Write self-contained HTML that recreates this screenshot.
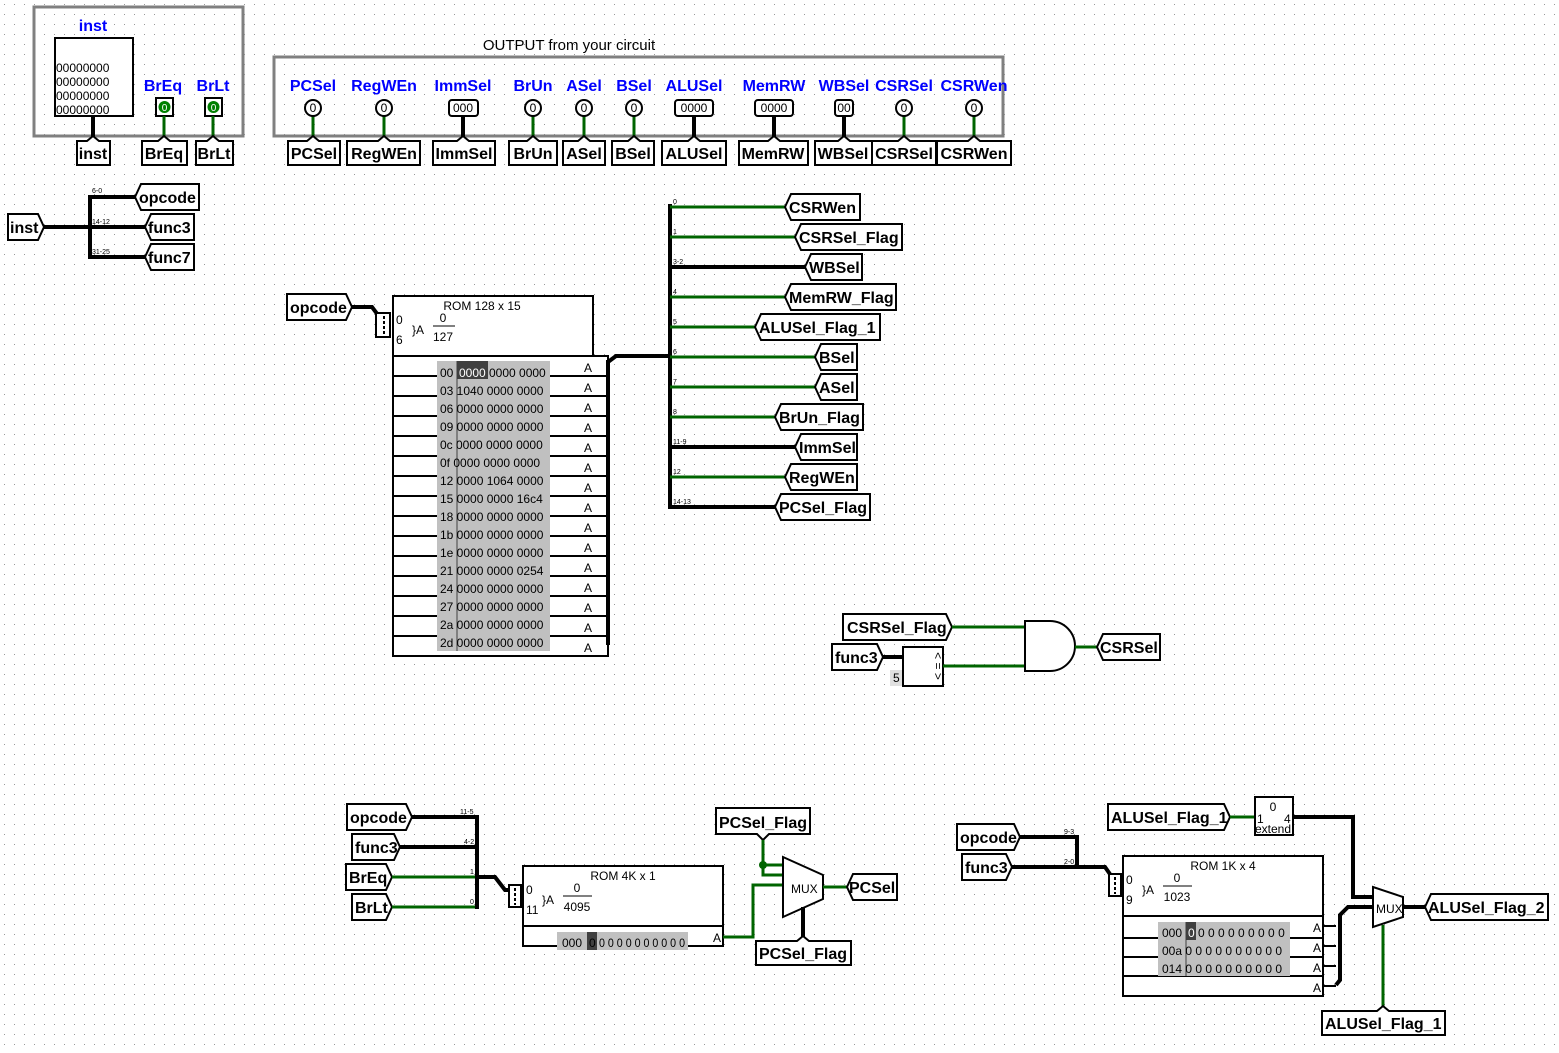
<!DOCTYPE html>
<html><head><meta charset="utf-8"><style>
html,body{margin:0;padding:0;background:#fff}
svg{display:block}
.t{font-family:"Liberation Sans",sans-serif;font-size:16px;font-weight:bold;fill:#000}
.b{font-family:"Liberation Sans",sans-serif;font-size:16px;font-weight:bold;fill:#0000ff}
.s{font-family:"Liberation Sans",sans-serif;font-size:12px;fill:#000}
.xs{font-family:"Liberation Sans",sans-serif;font-size:7px;fill:#000}
.tn{fill:#fff;stroke:#000;stroke-width:2}
.w{stroke:#000;stroke-width:4;fill:none}
.g{stroke:#006400;stroke-width:3;fill:none}
.k{stroke:#000;stroke-width:2;fill:none}
.gr{fill:none;stroke:#808080;stroke-width:3}
</style></head><body>
<svg width="1559" height="1053" viewBox="0 0 1559 1053" xmlns="http://www.w3.org/2000/svg">
<defs><pattern id="d" width="10" height="10" patternUnits="userSpaceOnUse"><rect x="4" y="4" width="1" height="1" fill="#999"/></pattern></defs>
<rect width="1559" height="1053" fill="#fff"/>
<rect width="1559" height="1053" fill="url(#d)"/>

<!-- input box -->
<rect class="gr" x="34" y="7" width="209" height="129"/>
<text class="b" x="93" y="31" text-anchor="middle">inst</text>
<rect x="55" y="38" width="78" height="78" fill="#fff" stroke="#000" stroke-width="2"/>
<g class="s" font-size="11"><text x="56" y="72">00000000</text><text x="56" y="86">00000000</text><text x="56" y="100">00000000</text><text x="56" y="114">00000000</text></g>
<line class="w" x1="93" y1="116" x2="93" y2="140"/>
<text class="b" x="163" y="91" text-anchor="middle">BrEq</text>
<text class="b" x="213" y="91" text-anchor="middle">BrLt</text>
<rect x="156" y="98" width="17" height="18" fill="#fff" stroke="#000" stroke-width="2"/>
<circle cx="164.5" cy="107" r="6" fill="#008000"/><text x="164.5" y="111" font-size="10" fill="#fff" text-anchor="middle" font-family="Liberation Sans">0</text>
<rect x="205" y="98" width="17" height="18" fill="#fff" stroke="#000" stroke-width="2"/>
<circle cx="213.5" cy="107" r="6" fill="#008000"/><text x="213.5" y="111" font-size="10" fill="#fff" text-anchor="middle" font-family="Liberation Sans">0</text>
<line class="g" x1="164" y1="116" x2="164" y2="140"/>
<line class="g" x1="213" y1="116" x2="213" y2="140"/>
<path class="tn" d="M77,141 L87,141 L93,136 L99,141 L110,141 L110,165 L77,165 Z"/><text class="t" x="93" y="159" text-anchor="middle">inst</text>
<path class="tn" d="M142,141 L158,141 L164,136 L170,141 L187,141 L187,165 L142,165 Z"/><text class="t" x="164" y="159" text-anchor="middle">BrEq</text>
<path class="tn" d="M196,141 L207,141 L213,136 L219,141 L233,141 L233,165 L196,165 Z"/><text class="t" x="214" y="159" text-anchor="middle">BrLt</text>

<!-- output box -->
<text x="569" y="50" font-family="Liberation Sans" font-size="15" text-anchor="middle">OUTPUT from your circuit</text>
<rect class="gr" x="274" y="57" width="729" height="79"/>
<g class="b">
<text x="313" y="91" text-anchor="middle">PCSel</text>
<text x="384" y="91" text-anchor="middle">RegWEn</text>
<text x="463" y="91" text-anchor="middle">ImmSel</text>
<text x="533" y="91" text-anchor="middle">BrUn</text>
<text x="584" y="91" text-anchor="middle">ASel</text>
<text x="634" y="91" text-anchor="middle">BSel</text>
<text x="694" y="91" text-anchor="middle">ALUSel</text>
<text x="774" y="91" text-anchor="middle">MemRW</text>
<text x="844" y="91" text-anchor="middle">WBSel</text>
<text x="904" y="91" text-anchor="middle">CSRSel</text>
<text x="974" y="91" text-anchor="middle">CSRWen</text>
</g>
<g class="g">
<line x1="313" y1="116" x2="313" y2="140"/><line x1="384" y1="116" x2="384" y2="140"/>
<line x1="533" y1="116" x2="533" y2="140"/><line x1="584" y1="116" x2="584" y2="140"/>
<line x1="634" y1="116" x2="634" y2="140"/><line x1="904" y1="116" x2="904" y2="140"/>
<line x1="974" y1="116" x2="974" y2="140"/>
</g>
<g class="w">
<line x1="463" y1="116" x2="463" y2="140"/><line x1="694" y1="116" x2="694" y2="140"/>
<line x1="774" y1="116" x2="774" y2="140"/><line x1="844" y1="116" x2="844" y2="140"/>
</g>
<g fill="#fff" stroke="#000" stroke-width="2">
<circle cx="313" cy="108" r="8"/><circle cx="384" cy="108" r="8"/><circle cx="533" cy="108" r="8"/>
<circle cx="584" cy="108" r="8"/><circle cx="634" cy="108" r="8"/><circle cx="904" cy="108" r="8"/><circle cx="974" cy="108" r="8"/>
<rect x="449" y="100" width="29" height="16" rx="3"/><rect x="675" y="100" width="38" height="16" rx="3"/>
<rect x="755" y="100" width="38" height="16" rx="3"/><rect x="835" y="100" width="18" height="16" rx="3"/>
</g>
<g class="s" font-size="10" text-anchor="middle">
<text x="313" y="112">0</text><text x="384" y="112">0</text><text x="533" y="112">0</text><text x="584" y="112">0</text>
<text x="634" y="112">0</text><text x="904" y="112">0</text><text x="974" y="112">0</text>
<text x="463" y="112">000</text><text x="694" y="112">0000</text><text x="774" y="112">0000</text><text x="844" y="112">00</text>
</g>
<g class="tn">
<path d="M288,141 L307,141 L313,136 L319,141 L340,141 L340,165 L288,165 Z"/>
<path d="M347,141 L378,141 L384,136 L390,141 L420,141 L420,165 L347,165 Z"/>
<path d="M433,141 L457,141 L463,136 L469,141 L495,141 L495,165 L433,165 Z"/>
<path d="M509,141 L527,141 L533,136 L539,141 L557,141 L557,165 L509,165 Z"/>
<path d="M563,141 L578,141 L584,136 L590,141 L605,141 L605,165 L563,165 Z"/>
<path d="M612,141 L628,141 L634,136 L640,141 L654,141 L654,165 L612,165 Z"/>
<path d="M662,141 L688,141 L694,136 L700,141 L726,141 L726,165 L662,165 Z"/>
<path d="M739,141 L768,141 L774,136 L780,141 L808,141 L808,165 L739,165 Z"/>
<path d="M815,141 L838,141 L844,136 L850,141 L872,141 L872,165 L815,165 Z"/>
<path d="M872,141 L898,141 L904,136 L910,141 L936,141 L936,165 L872,165 Z"/>
<path d="M937,141 L968,141 L974,136 L980,141 L1011,141 L1011,165 L937,165 Z"/>
</g>
<g class="t" text-anchor="middle">
<text x="314" y="159">PCSel</text><text x="384" y="159">RegWEn</text><text x="464" y="159">ImmSel</text>
<text x="533" y="159">BrUn</text><text x="584" y="159">ASel</text><text x="633" y="159">BSel</text>
<text x="694" y="159">ALUSel</text><text x="773" y="159">MemRW</text><text x="843" y="159">WBSel</text>
<text x="904" y="159">CSRSel</text><text x="974" y="159">CSRWen</text>
</g>

<!-- inst splitter -->
<path class="tn" d="M8,214 L38,214 L44,227 L38,240 L8,240 Z"/><text class="t" x="10" y="233">inst</text>
<line class="w" x1="44" y1="227" x2="90" y2="227"/>
<line class="w" x1="90" y1="195" x2="90" y2="259"/>
<line class="w" x1="90" y1="197" x2="136" y2="197"/>
<line class="w" x1="90" y1="227" x2="146" y2="227"/>
<line class="w" x1="90" y1="257" x2="146" y2="257"/>
<text class="xs" x="92" y="193">6-0</text><text class="xs" x="92" y="224">14-12</text><text class="xs" x="92" y="254">31-25</text>
<path class="tn" d="M135,197 L141,184 L199,184 L199,210 L141,210 Z"/><text class="t" x="139" y="203">opcode</text>
<path class="tn" d="M145,227 L151,214 L194,214 L194,240 L151,240 Z"/><text class="t" x="148" y="233">func3</text>
<path class="tn" d="M145,257 L151,244 L194,244 L194,270 L151,270 Z"/><text class="t" x="148" y="263">func7</text>

<!-- ROM 128x15 -->
<path class="tn" d="M287,294 L346,294 L352,307 L346,320 L287,320 Z"/><text class="t" x="290" y="313">opcode</text>
<path class="w" d="M352,307 L372,307 L378,315 L378,333"/>
<rect x="376" y="313" width="14" height="24" fill="#fff" stroke="#000" stroke-width="2"/>
<line x1="384" y1="316" x2="384" y2="335" stroke="#000" stroke-width="2" stroke-dasharray="3,2"/>
<path d="M393,356 L393,296 L593,296 L593,356" fill="#fff" stroke="#000" stroke-width="2"/>
<rect x="393" y="356" width="215" height="300" fill="#fff" stroke="#000" stroke-width="2"/>
<text class="s" x="482" y="310" text-anchor="middle">ROM 128 x 15</text>
<text class="s" x="396" y="324">0</text><text class="s" x="396" y="344">6</text>
<text class="s" x="412" y="334">}A</text><text class="s" x="443" y="322" text-anchor="middle">0</text>
<line x1="433" y1="326" x2="455" y2="326" stroke="#000"/><text class="s" x="443" y="341" text-anchor="middle">127</text>
<g stroke="#000" stroke-width="2">
<line x1="393" y1="376" x2="608" y2="376"/><line x1="393" y1="396" x2="608" y2="396"/><line x1="393" y1="416" x2="608" y2="416"/>
<line x1="393" y1="436" x2="608" y2="436"/><line x1="393" y1="456" x2="608" y2="456"/><line x1="393" y1="476" x2="608" y2="476"/>
<line x1="393" y1="496" x2="608" y2="496"/><line x1="393" y1="516" x2="608" y2="516"/><line x1="393" y1="536" x2="608" y2="536"/>
<line x1="393" y1="556" x2="608" y2="556"/><line x1="393" y1="576" x2="608" y2="576"/><line x1="393" y1="596" x2="608" y2="596"/>
<line x1="393" y1="616" x2="608" y2="616"/><line x1="393" y1="636" x2="608" y2="636"/>
</g>
<rect x="437" y="361" width="113" height="290" fill="#c0c0c0"/>
<rect x="457" y="361" width="31" height="18" fill="#404040"/>
<line x1="457" y1="361" x2="457" y2="651" stroke="#404040"/>
<g font-family="Liberation Sans" font-size="12" fill="#000">
<text x="440" y="377"><tspan>00</tspan><tspan x="459" fill="#fff">0000</tspan><tspan x="489">0000 0000</tspan></text>
<text x="440" y="395">03 1040 0000 0000</text><text x="440" y="413">06 0000 0000 0000</text>
<text x="440" y="431">09 0000 0000 0000</text><text x="440" y="449">0c 0000 0000 0000</text>
<text x="440" y="467">0f 0000 0000 0000</text><text x="440" y="485">12 0000 1064 0000</text>
<text x="440" y="503">15 0000 0000 16c4</text><text x="440" y="521">18 0000 0000 0000</text>
<text x="440" y="539">1b 0000 0000 0000</text><text x="440" y="557">1e 0000 0000 0000</text>
<text x="440" y="575">21 0000 0000 0254</text><text x="440" y="593">24 0000 0000 0000</text>
<text x="440" y="611">27 0000 0000 0000</text><text x="440" y="629">2a 0000 0000 0000</text>
<text x="440" y="647">2d 0000 0000 0000</text>
</g>
<g class="s" font-size="10"><text x="584" y="372">A</text><text x="584" y="392">A</text><text x="584" y="412">A</text><text x="584" y="432">A</text><text x="584" y="452">A</text><text x="584" y="472">A</text><text x="584" y="492">A</text><text x="584" y="512">A</text><text x="584" y="532">A</text><text x="584" y="552">A</text><text x="584" y="572">A</text><text x="584" y="592">A</text><text x="584" y="612">A</text><text x="584" y="632">A</text><text x="584" y="652">A</text></g>
<line class="w" x1="608" y1="360" x2="608" y2="645"/>
<path class="w" d="M608,362 L616,356 L670,356"/>
<line class="w" x1="670" y1="204" x2="670" y2="509"/>
<g class="g"><line x1="670" y1="207" x2="786" y2="207"/><line x1="670" y1="237" x2="796" y2="237"/>
<line x1="670" y1="297" x2="786" y2="297"/><line x1="670" y1="327" x2="756" y2="327"/>
<line x1="670" y1="357" x2="816" y2="357"/><line x1="670" y1="387" x2="816" y2="387"/>
<line x1="670" y1="417" x2="776" y2="417"/><line x1="670" y1="477" x2="786" y2="477"/></g>
<g class="w"><line x1="670" y1="267" x2="806" y2="267"/><line x1="670" y1="447" x2="796" y2="447"/><line x1="670" y1="507" x2="776" y2="507"/></g>
<g class="xs"><text x="673" y="204">0</text><text x="673" y="234">1</text><text x="673" y="264">3-2</text><text x="673" y="294">4</text><text x="673" y="324">5</text><text x="673" y="354">6</text><text x="673" y="384">7</text><text x="673" y="414">8</text><text x="673" y="444">11-9</text><text x="673" y="474">12</text><text x="673" y="504">14-13</text></g>
<g class="tn">
<path d="M785,207 L791,194 L860,194 L860,220 L791,220 Z"/>
<path d="M795,237 L801,224 L902,224 L902,250 L801,250 Z"/>
<path d="M805,267 L811,254 L862,254 L862,280 L811,280 Z"/>
<path d="M785,297 L791,284 L896,284 L896,310 L791,310 Z"/>
<path d="M755,327 L761,314 L880,314 L880,340 L761,340 Z"/>
<path d="M815,357 L821,344 L857,344 L857,370 L821,370 Z"/>
<path d="M815,387 L821,374 L857,374 L857,400 L821,400 Z"/>
<path d="M775,417 L781,404 L863,404 L863,430 L781,430 Z"/>
<path d="M795,447 L801,434 L857,434 L857,460 L801,460 Z"/>
<path d="M785,477 L791,464 L857,464 L857,490 L791,490 Z"/>
<path d="M775,507 L781,494 L870,494 L870,520 L781,520 Z"/>
</g>
<g class="t">
<text x="789" y="213">CSRWen</text><text x="799" y="243">CSRSel_Flag</text><text x="809" y="273">WBSel</text>
<text x="789" y="303">MemRW_Flag</text><text x="759" y="333">ALUSel_Flag_1</text><text x="819" y="363">BSel</text>
<text x="819" y="393">ASel</text><text x="779" y="423">BrUn_Flag</text><text x="799" y="453">ImmSel</text>
<text x="789" y="483">RegWEn</text><text x="779" y="513">PCSel_Flag</text>
</g>

<!-- CSRSel logic -->
<path class="tn" d="M843,614 L946,614 L952,627 L946,640 L843,640 Z"/><text class="t" x="847" y="633">CSRSel_Flag</text>
<path class="tn" d="M832,644 L877,644 L883,657 L877,670 L832,670 Z"/><text class="t" x="835" y="663">func3</text>
<line class="g" x1="952" y1="627" x2="1025" y2="627"/>
<line class="w" x1="883" y1="657" x2="903" y2="657"/>
<rect x="890" y="670" width="13" height="16" fill="#e0e0e0"/><text class="s" x="893" y="682">5</text>
<rect x="903" y="647" width="40" height="39" fill="#fff" stroke="#000" stroke-width="2"/>
<text class="s" x="934" y="666" font-size="9" transform="rotate(90 934 666)" text-anchor="middle">&lt; = &gt;</text>
<line class="g" x1="943" y1="666" x2="1025" y2="666"/>
<path d="M1025,621 L1050,621 A25,25 0 0 1 1050,671 L1025,671 Z" fill="#fff" stroke="#000" stroke-width="2"/>
<line class="g" x1="1075" y1="647" x2="1097" y2="647"/>
<path class="tn" d="M1097,647 L1103,634 L1160,634 L1160,660 L1103,660 Z"/><text class="t" x="1100" y="653">CSRSel</text>

<!-- ROM 4K -->
<path class="tn" d="M347,804 L406,804 L412,817 L406,830 L347,830 Z"/><text class="t" x="350" y="823">opcode</text>
<path class="tn" d="M352,834 L394,834 L400,847 L394,860 L352,860 Z"/><text class="t" x="355" y="853">func3</text>
<path class="tn" d="M346,864 L386,864 L392,877 L386,890 L346,890 Z"/><text class="t" x="349" y="883">BrEq</text>
<path class="tn" d="M352,894 L386,894 L392,907 L386,920 L352,920 Z"/><text class="t" x="355" y="913">BrLt</text>
<line class="w" x1="412" y1="817" x2="477" y2="817"/><line class="w" x1="400" y1="847" x2="477" y2="847"/>
<line class="g" x1="392" y1="877" x2="477" y2="877"/><line class="g" x1="392" y1="907" x2="477" y2="907"/>
<line class="w" x1="477" y1="815" x2="477" y2="909"/>
<g class="xs"><text x="460" y="814">11-5</text><text x="464" y="844">4-2</text><text x="470" y="874">1</text><text x="470" y="904">0</text></g>
<path class="w" d="M477,877 L495,877 L505,890 L510,890"/>
<rect x="509" y="885" width="12" height="22" fill="#fff" stroke="#000" stroke-width="2"/>
<line x1="515" y1="888" x2="515" y2="905" stroke="#000" stroke-width="2" stroke-dasharray="3,2"/>
<path d="M523,926 L523,866 L723,866 L723,926" fill="#fff" stroke="#000" stroke-width="2"/>
<rect x="523" y="926" width="200" height="20" fill="#fff" stroke="#000" stroke-width="2"/>
<text class="s" x="623" y="880" text-anchor="middle">ROM 4K x 1</text>
<text class="s" x="526" y="894">0</text><text class="s" x="526" y="914">11</text>
<text class="s" x="542" y="904">}A</text><text class="s" x="577" y="892" text-anchor="middle">0</text>
<line x1="563" y1="896" x2="592" y2="896" stroke="#000"/><text class="s" x="577" y="911" text-anchor="middle">4095</text>
<rect x="557" y="932" width="131" height="18" fill="#c0c0c0"/><rect x="587" y="932" width="10" height="18" fill="#404040"/>
<text class="s" x="562" y="947">000</text><text class="s" x="589" y="947" fill="#fff">0</text>
<text class="s" x="599" y="947" textLength="86" lengthAdjust="spacingAndGlyphs">0 0 0 0 0 0 0 0 0 0</text>
<text class="s" x="713" y="942" font-size="10">A</text>
<path class="g" d="M723,937 L753,937 L753,885 L783,885"/>
<path class="tn" d="M716,808 L810,808 L810,834 L769,834 L763,840 L757,834 L716,834 Z"/><text class="t" x="719" y="828">PCSel_Flag</text>
<path class="g" d="M763,840 L763,875 L783,875"/><path class="g" d="M763,865 L783,865"/>
<circle cx="763" cy="865" r="4" fill="#006400"/>
<path d="M783,857 L823,875 L823,899 L783,917 Z" fill="#fff" stroke="#000" stroke-width="2"/>
<text class="s" x="791" y="893" font-size="10">MUX</text>
<line class="g" x1="823" y1="887" x2="847" y2="887"/>
<path class="tn" d="M847,887 L853,874 L897,874 L897,900 L853,900 Z"/><text class="t" x="849" y="893">PCSel</text>
<line class="w" x1="803" y1="907" x2="803" y2="941"/>
<path class="tn" d="M756,941 L797,941 L803,936 L809,941 L851,941 L851,965 L756,965 Z"/><text class="t" x="759" y="959">PCSel_Flag</text>

<!-- ROM 1K -->
<path class="tn" d="M957,824 L1014,824 L1020,837 L1014,850 L957,850 Z"/><text class="t" x="960" y="843">opcode</text>
<path class="tn" d="M962,854 L1006,854 L1012,867 L1006,880 L962,880 Z"/><text class="t" x="965" y="873">func3</text>
<path class="w" d="M1020,837 L1077,837 L1077,867"/>
<path class="w" d="M1012,867 L1105,867 L1112,877"/>
<g class="xs"><text x="1064" y="834">9-3</text><text x="1064" y="864">2-0</text></g>
<rect x="1109" y="874" width="12" height="22" fill="#fff" stroke="#000" stroke-width="2"/>
<line x1="1115" y1="877" x2="1115" y2="894" stroke="#000" stroke-width="2" stroke-dasharray="3,2"/>
<path d="M1123,916 L1123,856 L1323,856 L1323,916" fill="#fff" stroke="#000" stroke-width="2"/>
<rect x="1123" y="916" width="200" height="80" fill="#fff" stroke="#000" stroke-width="2"/>
<text class="s" x="1223" y="870" text-anchor="middle">ROM 1K x 4</text>
<text class="s" x="1126" y="884">0</text><text class="s" x="1126" y="904">9</text>
<text class="s" x="1142" y="894">}A</text><text class="s" x="1177" y="882" text-anchor="middle">0</text>
<line x1="1163" y1="886" x2="1192" y2="886" stroke="#000"/><text class="s" x="1177" y="901" text-anchor="middle">1023</text>
<g stroke="#000" stroke-width="2"><line x1="1123" y1="938" x2="1323" y2="938"/><line x1="1123" y1="957" x2="1323" y2="957"/><line x1="1123" y1="976" x2="1323" y2="976"/></g>
<rect x="1158" y="922" width="132" height="54" fill="#c0c0c0"/><rect x="1186" y="922" width="10" height="18" fill="#404040"/>
<line x1="1186" y1="922" x2="1186" y2="976" stroke="#404040"/>
<g class="s"><text x="1162" y="937"><tspan>000 </tspan><tspan x="1188" fill="#fff">0</tspan><tspan x="1198">0 0 0 0 0 0 0 0 0</tspan></text>
<text x="1162" y="955">00a 0 0 0 0 0 0 0 0 0 0</text><text x="1162" y="973">014 0 0 0 0 0 0 0 0 0 0</text></g>
<g class="s" font-size="10"><text x="1313" y="932">A</text><text x="1313" y="952">A</text><text x="1313" y="972">A</text><text x="1313" y="992">A</text></g>
<path class="k" d="M1323,926 L1336,926 M1323,946 L1336,946 M1323,966 L1336,966 M1323,986 L1336,986"/>
<path class="w" d="M1336,985 L1340,980 L1340,915 L1348,907 L1373,907"/>
<path class="tn" d="M1108,804 L1224,804 L1230,817 L1224,830 L1108,830 Z"/><text class="t" x="1111" y="823">ALUSel_Flag_1</text>
<line class="g" x1="1230" y1="817" x2="1255" y2="817"/>
<rect x="1255" y="797" width="38" height="38" fill="#fff" stroke="#000" stroke-width="2"/>
<text class="s" x="1273" y="811" text-anchor="middle">0</text><text class="s" x="1257" y="823">1</text><text class="s" x="1284" y="823">4</text>
<text class="s" x="1255" y="833">extend</text>
<path class="w" d="M1293,817 L1353,817 L1353,897 L1373,897"/>
<path d="M1373,887 L1403,897 L1403,917 L1373,927 Z" fill="#fff" stroke="#000" stroke-width="2"/>
<text class="s" x="1376" y="913" font-size="10">MUX</text>
<line class="w" x1="1403" y1="907" x2="1425" y2="907"/>
<path class="tn" d="M1425,907 L1431,894 L1548,894 L1548,920 L1431,920 Z"/><text class="t" x="1428" y="913">ALUSel_Flag_2</text>
<line class="g" x1="1383" y1="925" x2="1383" y2="1011"/>
<path class="tn" d="M1322,1011 L1377,1011 L1383,1006 L1389,1011 L1445,1011 L1445,1035 L1322,1035 Z"/><text class="t" x="1325" y="1029">ALUSel_Flag_1</text>
</svg>
</body></html>
